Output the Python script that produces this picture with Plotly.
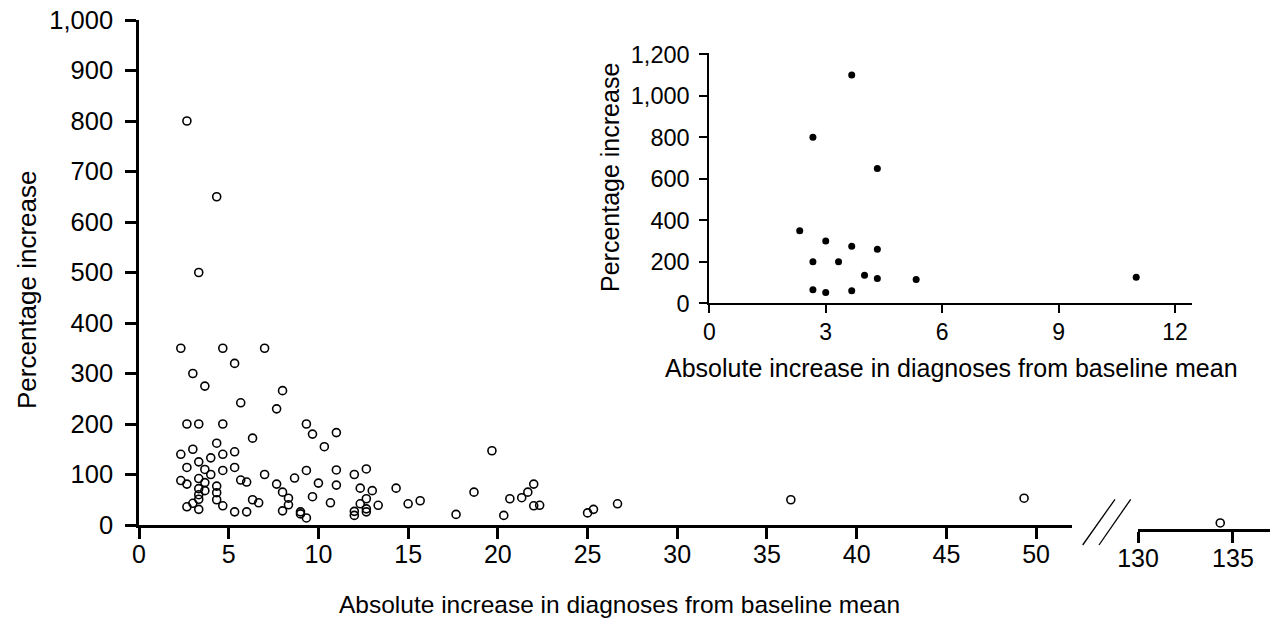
import plotly.graph_objects as go

# Main panel data (open circles)
main_x = [2.67, 4.33, 3.33,
          2.33, 4.67, 7.0, 5.33, 3.0, 3.67, 8.0, 5.67, 7.67, 2.67, 3.33, 4.67, 9.33, 9.67, 11.0, 6.33, 10.33,
          2.33, 3.0, 4.33, 4.0, 4.67, 5.33, 2.67, 3.33, 3.67, 4.0, 4.67, 5.33, 2.33, 2.67, 3.33, 3.67, 4.33,
          3.33, 3.67, 4.33, 3.33, 3.33, 4.33, 3.0, 2.67, 3.33, 4.67, 5.67, 6.0, 7.0, 7.67, 8.0, 8.33, 8.33,
          6.33, 6.67, 5.33, 6.0, 8.0, 8.67, 9.33, 9.67, 10.0, 9.0, 9.0, 9.33, 10.67, 11.0, 11.0, 12.0, 12.67,
          12.33, 13.0, 12.67, 12.33, 13.33, 12.0, 12.0, 12.67, 12.67,
          14.33, 15.0, 15.67, 17.67, 18.67, 19.67, 20.33, 20.67, 21.33, 21.67, 22.0, 22.0, 22.33,
          25.0, 25.33, 26.67, 36.33, 49.33]
main_y = [800, 650, 500,
          350, 350, 350, 320, 300, 275, 266, 242, 230, 200, 200, 200, 200, 180, 183, 172, 155,
          140, 150, 162, 133, 140, 145, 114, 125, 110, 100, 108, 114, 88, 81, 92, 84, 77,
          72, 68, 64, 60, 51, 50, 43, 36, 31, 38, 89, 85, 100, 81, 65, 53, 40,
          50, 44, 26, 26, 28, 93, 108, 56, 83, 26, 22, 14, 44, 109, 79, 100, 111,
          73, 68, 52, 42, 39, 27, 19, 32, 26,
          73, 42, 48, 21, 65, 147, 19, 52, 54, 65, 81, 38, 39,
          24, 31, 42, 50, 53]

# Broken-axis segment data
break_x = [134.33]
break_y = [12]

# Inset data (filled circles)
inset_x = [3.67, 2.67, 4.33, 2.33, 3.0, 3.67, 4.33, 2.67, 3.33, 4.0, 4.33, 5.33, 2.67, 3.0, 3.67, 11.0]
inset_y = [1100, 800, 650, 350, 300, 275, 260, 200, 200, 135, 120, 115, 65, 52, 60, 125]

main_xticks = [0, 5, 10, 15, 20, 25, 30, 35, 40, 45, 50]
main_yticks = [0, 100, 200, 300, 400, 500, 600, 700, 800, 900, 1000]
break_xticks = [130, 135]
inset_xticks = [0, 3, 6, 9, 12]
inset_yticks = [0, 200, 400, 600, 800, 1000, 1200]

W, H = 1270, 621
FONT = "Arial, Liberation Sans, Helvetica, sans-serif"

def px_x(p):
    return p / W

def px_y(p):
    return (H - p) / H

fig = go.Figure()

fig.add_trace(go.Scatter(x=main_x, y=main_y, mode="markers", xaxis="x", yaxis="y",
                         marker=dict(symbol="circle-open", size=8, color="black", line=dict(width=1.6)),
                         showlegend=False, hoverinfo="x+y"))
fig.add_trace(go.Scatter(x=break_x, y=break_y, mode="markers", xaxis="x2", yaxis="y2",
                         marker=dict(symbol="circle-open", size=8, color="black", line=dict(width=1.6)),
                         showlegend=False))
fig.add_trace(go.Scatter(x=inset_x, y=inset_y, mode="markers", xaxis="x3", yaxis="y3",
                         marker=dict(symbol="circle", size=7, color="black"),
                         showlegend=False))

axis_common = dict(showgrid=False, zeroline=False, showline=True, linecolor="black",
                   ticks="outside", tickcolor="black", color="black", automargin=False)

fig.update_layout(
    width=W, height=H,
    margin=dict(l=0, r=0, t=0, b=0, autoexpand=False),
    paper_bgcolor="white", plot_bgcolor="rgba(0,0,0,0)",
    font=dict(family=FONT, color="black"),
    xaxis=dict(**axis_common, domain=[px_x(139), px_x(1072)], range=[0, 52.0], anchor="y",
               tickvals=main_xticks, linewidth=2.6, tickwidth=2.6, ticklen=11,
               tickfont=dict(size=25), ticklabelstandoff=-6),
    yaxis=dict(**axis_common, domain=[px_y(525), px_y(20)], range=[0, 1000], anchor="x",
               tickvals=main_yticks, tickformat=",", linewidth=2.6, tickwidth=2.6, ticklen=11,
               tickfont=dict(size=25.5), ticklabelstandoff=7),
    xaxis2=dict(**axis_common, domain=[px_x(1138), 1.0], range=[130, 136.95], anchor="y2",
                tickvals=break_xticks, linewidth=2.6, tickwidth=2.6, ticklen=11,
                tickfont=dict(size=25), ticklabelstandoff=-6),
    yaxis2=dict(domain=[px_y(529), px_y(24)], range=[0, 1000], anchor="x2", visible=False,
                automargin=False),
    xaxis3=dict(**axis_common, domain=[px_x(709.3), px_x(1191.7)], range=[0, 12.43], anchor="y3",
                tickvals=inset_xticks, linewidth=2, tickwidth=2, ticklen=8,
                tickfont=dict(size=23), ticklabelstandoff=-1),
    yaxis3=dict(**axis_common, domain=[px_y(303.3), px_y(53.3)], range=[0, 1205], anchor="x3",
                tickvals=inset_yticks, tickformat=",", linewidth=2, tickwidth=2, ticklen=8,
                tickfont=dict(size=23.5), ticklabelstandoff=5),
)

# Axis titles
fig.add_annotation(text="Absolute increase in diagnoses from baseline mean", xref="paper", yref="paper",
                   x=px_x(619), y=px_y(604), showarrow=False, font=dict(size=24.5, family=FONT),
                   xanchor="center", yanchor="middle")
fig.add_annotation(text="Percentage increase", xref="paper", yref="paper",
                   x=px_x(27), y=px_y(290), showarrow=False, textangle=-90,
                   font=dict(size=26, family=FONT), xanchor="center", yanchor="middle")
fig.add_annotation(text="Absolute increase in diagnoses from baseline mean", xref="paper", yref="paper",
                   x=px_x(951), y=px_y(368), showarrow=False, font=dict(size=25, family=FONT),
                   xanchor="center", yanchor="middle")
fig.add_annotation(text="Percentage increase", xref="paper", yref="paper",
                   x=px_x(610), y=px_y(178), showarrow=False, textangle=-90,
                   font=dict(size=25, family=FONT), xanchor="center", yanchor="middle")

# Axis-break marks
for x0, x1 in [(1082.7, 1115.0), (1099.0, 1130.7)]:
    fig.add_shape(type="line", xref="paper", yref="paper",
                  x0=px_x(x0), y0=px_y(545), x1=px_x(x1), y1=px_y(499.3),
                  line=dict(color="black", width=1.3))

fig.write_html("out.html", config={"displayModeBar": False},
               post_script="document.body.style.margin='0px';document.body.style.padding='0px';")
